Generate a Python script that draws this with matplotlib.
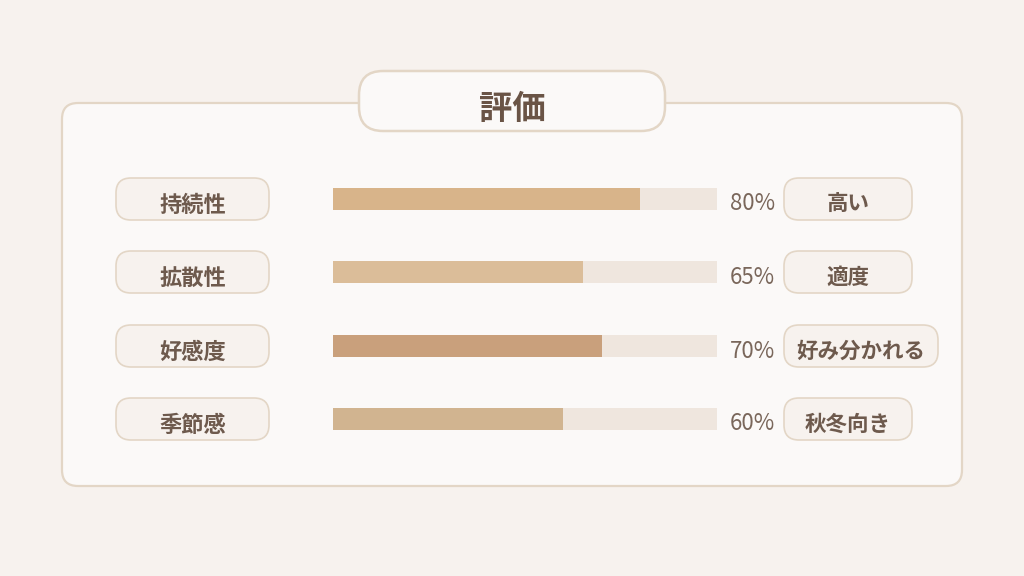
import matplotlib
matplotlib.use("Agg")
import matplotlib.pyplot as plt
from matplotlib.patches import FancyBboxPatch

plt.rcParams['font.family'] = ['Noto Sans CJK JP', 'DejaVu Sans']

# データ
title = "評価"
labels = ["持続性", "拡散性", "好感度", "季節感"]
values = [80, 65, 70, 60]
notes = ["高い", "適度", "好み分かれる", "秋冬向き"]
bar_colors = ["#D8B48A", "#DBBD99", "#C9A07C", "#D1B490"]

bg = "#F7F2EE"
panel = "#FBF9F8"
edge = "#E3D6C6"
track = "#EFE6DE"
text_c = "#6E5A4D"

fig = plt.figure(figsize=(10.24, 5.76), dpi=100, facecolor=bg)
ax = fig.add_axes([0, 0, 1, 1])
ax.set_xlim(0, 1024)
ax.set_ylim(576, 0)
ax.axis("off")
ax.set_facecolor(bg)

# パネル
ax.add_patch(FancyBboxPatch((62, 103), 900, 383, boxstyle="round,pad=0,rounding_size=16",
                            fc=panel, ec=edge, lw=1.6, zorder=1))
# タイトル
ax.add_patch(FancyBboxPatch((359, 71), 306, 60, boxstyle="round,pad=0,rounding_size=24",
                            fc=panel, ec=edge, lw=1.8, zorder=2))
ax.text(512, 110, title, ha="center", va="center", fontsize=24, fontweight="bold",
        color="#6A5446", zorder=3)

row_y = [199, 272, 346, 419]
bar_x0, bar_w, bar_h = 333, 384, 22

for i, (lab, v, note, c) in enumerate(zip(labels, values, notes, bar_colors)):
    y = row_y[i]
    # 左ラベル
    ax.add_patch(FancyBboxPatch((116, y - 21), 153, 42, boxstyle="round,pad=0,rounding_size=15",
                                fc=bg, ec=edge, lw=1.2, zorder=2))
    ax.text(192.5, y + 6, lab, ha="center", va="center", fontsize=16, fontweight="bold",
            color=text_c, zorder=3)
    # バー
    ax.barh(y, bar_w, left=bar_x0, height=bar_h, color=track, zorder=2)
    ax.barh(y, v / 100 * bar_w, left=bar_x0, height=bar_h, color=c, zorder=3)
    ax.text(730, y + 5, f"{v}%", ha="left", va="center", fontsize=16,
            color="#7A675B", zorder=3)
    # 右ラベル
    w = max(128, len(note) * 21.5 + 25)
    ax.add_patch(FancyBboxPatch((784, y - 21), w, 42, boxstyle="round,pad=0,rounding_size=15",
                                fc=bg, ec=edge, lw=1.2, zorder=2))
    ax.text(784 + w / 2, y + 5, note, ha="center", va="center", fontsize=15.5,
            fontweight="bold", color=text_c, zorder=3)

fig.savefig("out.png", dpi=100, facecolor=bg)
